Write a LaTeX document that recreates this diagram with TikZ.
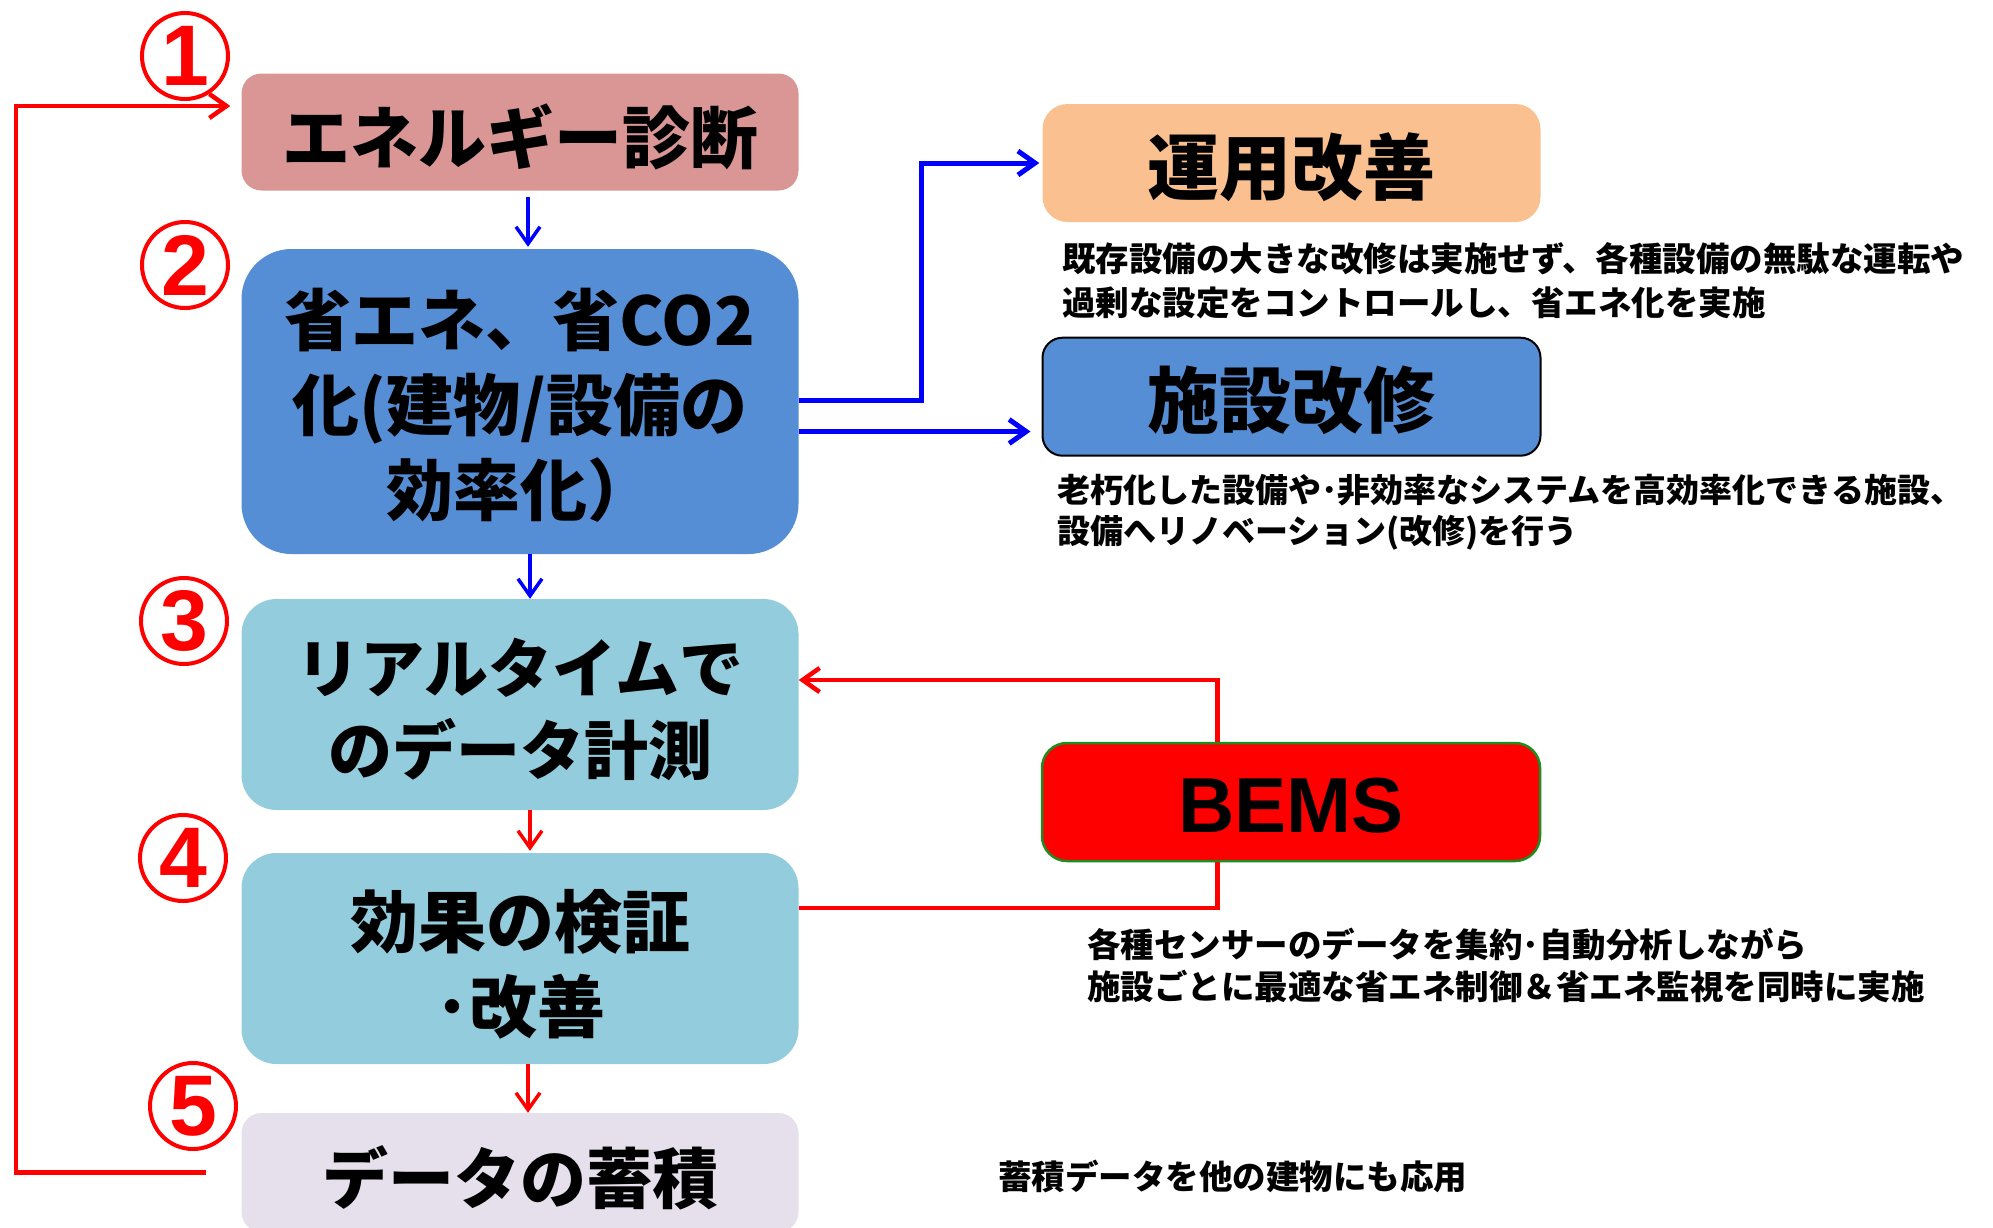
\documentclass[tikz,border=0pt]{standalone}
\usepackage{fontspec}
\newfontfamily\jp{Noto Sans CJK JP}
\newfontfamily\lsans{Liberation Sans}
\usetikzlibrary{arrows.meta,calc}
\definecolor{cPink}{HTML}{D99694}
\definecolor{cBlue}{HTML}{558ED5}
\definecolor{cCyan}{HTML}{93CDDD}
\definecolor{cLav}{HTML}{E6E0EC}
\definecolor{cPeach}{HTML}{FAC090}
\definecolor{cRed}{HTML}{FF0000}
\definecolor{cArrowBlue}{HTML}{0000FF}
\definecolor{cGreen}{HTML}{1E8C1E}
\begin{document}
\begin{tikzpicture}[x=1pt,y=-1pt,
  >={Straight Barb[length=17pt,width=24pt]},
  box/.style={inner sep=0pt, minimum width=557pt},
  rbox/.style={inner sep=0pt, minimum width=498pt, minimum height=118pt},
  btext/.style={inner sep=0pt, align=center, text=black},
  desc/.style={inner sep=0pt, align=left, anchor=west, text=black},
  num/.style={circle, draw=cRed, line width=4pt, minimum size=86pt, inner sep=0pt, text=cRed,
    font=\lsans\bfseries\fontsize{86}{86}\selectfont},
  bluedown/.style={draw=cArrowBlue, line width=3.5pt, ->},
  reddown/.style={draw=cRed, line width=3.5pt, ->},
  bluethick/.style={draw=cArrowBlue, line width=5pt},
  redline/.style={draw=cRed, line width=4.5pt},
]
\useasboundingbox (0,0) rectangle (1993,1227);
\clip (0,0) rectangle (1993,1227);

% left column boxes
\node[box, fill=cPink, rounded corners=20pt, minimum height=117pt] (b1) at (520,132) {};
\node[box, fill=cBlue, rounded corners=50pt, minimum height=305pt] (b2) at (520,401.5) {};
\node[box, fill=cCyan, rounded corners=35pt, minimum height=211pt] (b3) at (520,704.5) {};
\node[box, fill=cCyan, rounded corners=35pt, minimum height=211pt] (b4) at (520,958.5) {};
\node[box, fill=cLav, rounded corners=20pt, minimum height=119pt] (b5) at (520,1172.5) {};

\node[btext, font=\jp\bfseries\fontsize{68}{85}\selectfont] (t1) at ($(b1)+(0,5)$) {エネルギー診断};
\node[btext, font=\jp\bfseries\fontsize{67}{85}\selectfont] (t2) at ($(b2)+(0,4)$) {省エネ、省CO2\\化(建物/設備の\\効率化）};
\node[btext, font=\jp\bfseries\fontsize{64}{82}\selectfont] (t3) at ($(b3)+(0,5)$) {リアルタイムで\\のデータ計測};
\node[btext, font=\jp\bfseries\fontsize{68}{85}\selectfont] (t4) at ($(b4)+(0,6)$) {効果の検証\\･改善};
\node[btext, font=\jp\bfseries\fontsize{66}{80}\selectfont] (t5) at ($(b5)+(0,5)$) {データの蓄積};

% right column boxes
\node[rbox, fill=cPeach, rounded corners=25pt] (b6) at (1291.5,163) {};
\node[rbox, fill=cBlue, draw=black, line width=2pt, rounded corners=20pt] (b7) at (1291.5,396.7) {};
\node[rbox, fill=cRed, draw=cGreen, line width=2.5pt, rounded corners=25pt] (b8) at (1291,802) {};
\node[btext, font=\jp\bfseries\fontsize{72}{80}\selectfont] (t6) at ($(b6)+(0,4)$) {運用改善};
\node[btext, font=\jp\bfseries\fontsize{72}{80}\selectfont] (t7) at ($(b7)+(0,4)$) {施設改修};
\node[btext, font=\lsans\bfseries\fontsize{78}{80}\selectfont] (t8) at ($(b8)+(0,4)$) {BEMS};

% descriptions
\node[desc, font=\jp\bfseries\fontsize{33.5}{44}\selectfont] (d6) at (1062,281) {既存設備の大きな改修は実施せず、各種設備の無駄な運転や\\過剰な設定をコントロールし、省エネ化を実施};
\node[desc, font=\jp\bfseries\fontsize{33}{41}\selectfont] (d7) at (1057,512.5) {老朽化した設備や･非効率なシステムを高効率化できる施設、\\設備へリノベーション(改修)を行う};
\node[desc, font=\jp\bfseries\fontsize{33.5}{42}\selectfont] (d8) at (1087,965) {各種センサーのデータを集約･自動分析しながら\\施設ごとに最適な省エネ制御＆省エネ監視を同時に実施};
\node[desc, font=\jp\bfseries\fontsize{33.5}{42}\selectfont] (d9) at (998,1176) {蓄積データを他の建物にも応用};

% circled numbers
\node[num] (n1) at (185,56) {1};
\node[num] (n2) at (185,265) {2};
\node[num] (n3) at (184,621) {3};
\node[num] (n4) at (183,858) {4};
\node[num] (n5) at (193,1106) {5};

% vertical flow arrows
\draw[bluedown, shorten <=6pt, shorten >=2pt] ($(b1.south)+(8,0)$) -- ($(b2.north)+(8,0)$);
\draw[bluedown] ($(b2.south)+(10,0)$) -- ($(b3.north)+(10,0)$);
\draw[reddown, shorten >=2pt] ($(b3.south)+(10,0)$) -- ($(b4.north)+(10,0)$);
\draw[reddown] ($(b4.south)+(8,0)$) -- ($(b5.north)+(8,0)$);

% blue branches to the right
\coordinate (j1) at ($(b6.west)+(-121,0)$);
\draw[bluethick, ->, shorten >=3pt] ($(b2.east)+(0,-1.5)$) -| (j1) -- (b6.west);
\coordinate (s2) at ($(b2.east)+(0,30)$);
\draw[bluethick, ->, shorten >=11pt] (s2) -- (s2 -| b7.west);

% BEMS connections
\coordinate (bt) at ($(b8.north)+(-73.5,0)$);
\coordinate (e3) at ($(b3.east)+(0,-24.5)$);
\draw[redline, ->] (bt) |- (e3);
\coordinate (bb) at ($(b8.south)+(-73.5,0)$);
\coordinate (e4) at ($(b4.east)+(0,-50.5)$);
\draw[redline] (e4) -| (bb);

% feedback loop
\coordinate (l0) at ($(b5.west)+(-35,0)$);
\coordinate (lc) at (16,106);
\coordinate (l1) at ($(b1.west)+(-11,-26)$);
\draw[redline, ->] (l0) -| (lc) -- (l1);
\end{tikzpicture}
\end{document}
